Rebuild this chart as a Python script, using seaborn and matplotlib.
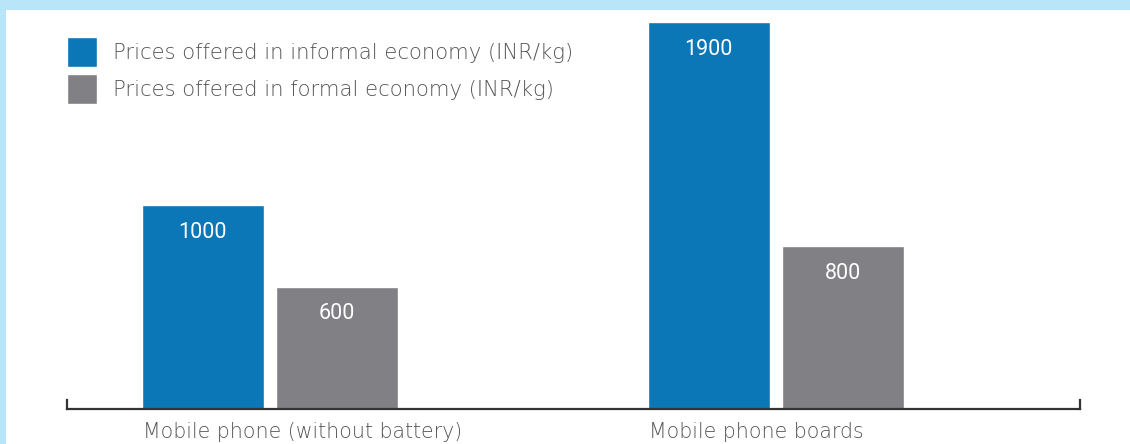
import pandas as pd
import matplotlib.pyplot as plt
import seaborn as sns
from matplotlib.patches import Rectangle

# data
categories = ["Mobile phone (without battery)", "Mobile phone boards"]
informal_prices = [1000, 1900]
formal_prices = [600, 800]
series_names = ["Prices offered in informal economy (INR/kg)",
                "Prices offered in formal economy (INR/kg)"]

df = pd.DataFrame({
    "category": categories * 2,
    "price": informal_prices + formal_prices,
    "series": [series_names[0]] * 2 + [series_names[1]] * 2,
})

sns.set_style("white")
plt.rcParams["font.family"] = ["DejaVu Sans"]
text_color = "#555555"

W, H = 1130, 444
fig = plt.figure(figsize=(W / 100, H / 100), dpi=100, facecolor="#b9e5f9")
# white panel inside the light blue frame
fig.patches.append(Rectangle((6 / W, 0), 1 - 6 / W, 434 / H, transform=fig.transFigure,
                             facecolor="white", edgecolor="none", zorder=-5))

ax = fig.add_axes([67 / W, 35 / H, (1080 - 67) / W, 387 / H])
ax.set_facecolor("none")
ax.set_zorder(2)

bar_width = 0.53
sns.barplot(data=df, x="category", y="price", hue="series", hue_order=series_names,
            palette=["#0b77b6", "#808085"], width=bar_width, gap=0.09,
            saturation=1, ax=ax)

for cont in ax.containers:
    ax.bar_label(cont, padding=-27, color="white", fontsize=15.5,
                 family=["Roboto", "DejaVu Sans"])

ax.set_xlim(-0.401, 1.601)
ax.set_ylim(0, 1900)
ax.set_yticks([])
ax.set_xlabel("")
ax.set_ylabel("")

# category labels start at the left edge of each group
ax.set_xticks([i - bar_width * 0.475 for i in range(len(categories))])
ax.set_xticklabels(categories, ha="left", color=text_color, fontsize=14.8, fontweight="light")
ax.tick_params(axis="x", length=0, pad=9)

ax.spines["top"].set_visible(False)
for side in ["left", "right", "bottom"]:
    ax.spines[side].set_color("#333333")
    ax.spines[side].set_linewidth(1.6)
ax.spines["left"].set_bounds(0, 45)
ax.spines["right"].set_bounds(0, 45)

leg = ax.legend(loc="upper left", bbox_to_anchor=(67 / W, 1 - 37 / H),
                bbox_transform=fig.transFigure, frameon=False, borderpad=0,
                borderaxespad=0, handlelength=1.42, handleheight=1.82,
                handletextpad=0.76, labelspacing=0.33, fontsize=15.2)
for t in leg.get_texts():
    t.set_color(text_color)
    t.set_fontweight("light")

fig.savefig("out.png", dpi=100, facecolor=fig.get_facecolor())
